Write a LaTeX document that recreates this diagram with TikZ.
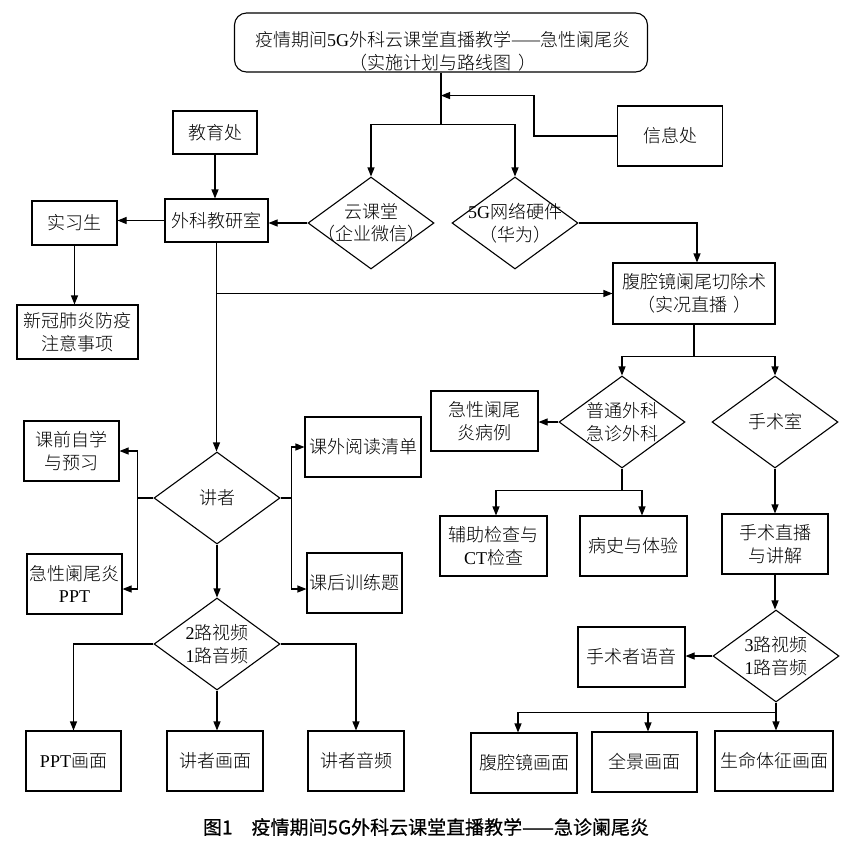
\documentclass[tikz,border=0pt]{standalone}
\usepackage{fontspec}
\setmainfont{Noto Sans CJK SC Light}
\newfontfamily\myenfont{Liberation Serif}
\newfontfamily\mycapfont[FakeBold=0.6]{Noto Sans CJK SC}
\usetikzlibrary{arrows.meta,shapes.geometric}
\newcommand\myEN[1]{{\myenfont #1}}
\newcommand\myLP{\makebox[10pt][r]{（}}
\newcommand\myRP{\makebox[10pt][l]{）}}
\begin{document}
\begin{tikzpicture}[x=1pt,y=-1pt,
  lw/.style={line width=1.1pt},
  every node/.style={font=\fontsize{18}{22.5}\selectfont, align=center, inner sep=0pt},
  box/.style={draw, lw, rectangle},
  sz/.style 2 args={minimum width=#1pt, minimum height=#2pt},
  dia/.style={draw, lw, diamond, minimum width=126pt, minimum height=92pt},
  arr/.style={lw, -{Triangle[length=9pt,width=7pt]}},
  ln/.style={lw}
]
\fill[white] (0,0) rectangle (866,844);
\useasboundingbox (0,0) rectangle (866,844);

% nodes
\node[box, rounded corners=12pt, sz={413}{59}] (title) at (441,42.5) {};
\node (titlet) at (443,51.5) {疫情期间\myEN{5G}外科云课堂直播教学——急性阑尾炎\\\myLP 实施计划与路线图\hspace{7pt}\myRP};
\node[box, sz={105}{60}] (xxc) at (670,136) {信息处};
\node[box, sz={84}{43}] (jyc) at (215,132.5) {教育处};
\node[box, sz={103}{43}] (kyjys) at (216.5,220.5) {外科教研室};
\node[box, sz={85}{44}] (sxs) at (74.5,223) {实习生};
\node[box, sz={121}{54}] (xg) at (77.5,332) {新冠肺炎防疫\\注意事项};
\node[dia] (yun) at (371,223) {};
\node (yunt) at (yun) {云课堂\\\myLP 企业微信\myRP};
\node[dia] (g5) at (515,223) {};
\node (g5t) at (g5) {\myEN{5G}网络硬件\\\myLP 华为\myRP};
\node[box, sz={162}{61}] (qjx) at (694,293.5) {腹腔镜阑尾切除术\\\myLP 实况直播\hspace{6pt}\myRP};
\node[dia] (js) at (217,498) {};
\node (jst) at (js) {讲者};
\node[box, sz={95}{60}] (kq) at (71.5,451) {课前自学\\与预习};
\node[box, sz={95}{60}] (ppt) at (74.5,584) {急性阑尾炎\\\myEN{PPT}};
\node[box, sz={116}{60}] (kwyd) at (363,447) {课外阅读清单};
\node[box, sz={95}{60}] (khxl) at (354.5,583) {课后训练题};
\node[dia] (lu2) at (217,644) {};
\node (lu2t) at (lu2) {\myEN{2}路视频\\\myEN{1}路音频};
\node[box, sz={95}{60}] (ppthm) at (73.5,761) {\myEN{PPT}画面};
\node[box, sz={96}{60}] (jshm) at (215,761) {讲者画面};
\node[box, sz={96}{60}] (jsyp) at (356,761) {讲者音频};
\node[dia] (pt) at (622,422) {};
\node (ptt) at (pt) {普通外科\\急诊外科};
\node[dia] (sss) at (775,422) {};
\node (ssst) at (sss) {手术室};
\node[box, sz={107}{60}] (bl) at (484.5,421) {急性阑尾\\炎病例};
\node[box, sz={107}{60}] (fz) at (493.5,546) {辅助检查与\\\myEN{CT}检查};
\node[box, sz={107}{60}] (bs) at (633.5,546) {病史与体验};
\node[box, sz={106}{60}] (sszb) at (775,544) {手术直播\\与讲解};
\node[dia] (lu3) at (776,656) {};
\node (lu3t) at (lu3) {\myEN{3}路视频\\\myEN{1}路音频};
\node[box, sz={107}{60}] (ssz) at (631.5,657) {手术者语音};
\node[box, sz={106}{60}] (fqhm) at (524,763) {腹腔镜画面};
\node[box, sz={105}{60}] (qjhm) at (644.5,762) {全景画面};
\node[box, sz={118}{60}] (smtz) at (774,761) {生命体征画面};
\node[font=\mycapfont\fontsize{19}{23}\selectfont] (cap) at (426,827) {图1\quad 疫情期间5G外科云课堂直播教学——急诊阑尾炎};

% connectors
\draw[ln] (title.south) -- ++(0,52) coordinate (jt);
\draw[arr] (jt) -| (yun.north);
\draw[arr] (jt) -| (g5.north);
\path (title.south) ++(0,23) coordinate (jx);
\draw[arr] (xxc.west) -- ++(-83,0) |- (jx);
\draw[arr] (yun.west) -- (yun.west -| kyjys.east);
\draw[arr] (kyjys.west) -- (kyjys.west -| sxs.east);
\draw[arr] (jyc.south) -- (jyc.south |- kyjys.north);
\draw[arr] (g5.east) -| ([xshift=3pt]qjx.north);
\draw[arr] (sxs.south) -- (sxs.south |- xg.north);
\draw[arr] (kyjys.south) -- (kyjys.south |- js.north);
\draw[arr] (kyjys.south |- qjx.west) -- (qjx.west);
\draw[ln] (js.west) -- ++(-16,0) coordinate (jl);
\draw[arr] (jl) |- (kq.east);
\draw[arr] (jl) |- ([yshift=-5pt]ppt.east);
\draw[ln] (js.east) -- ++(11,0) coordinate (jr);
\draw[arr] (jr) |- (kwyd.west);
\draw[arr] (jr) |- ([yshift=-6pt]khxl.west);
\draw[arr] (js.south) -- (lu2.north);
\draw[arr] (lu2.west) -| (ppthm.north);
\draw[arr] (lu2.south) -- (lu2.south |- jshm.north);
\draw[arr] (lu2.east) -| (jsyp.north);
\draw[ln] (qjx.south) -- ++(0,32) coordinate (jq);
\draw[arr] (jq) -| (pt.north);
\draw[arr] (jq) -| (sss.north);
\draw[arr] (pt.west) -- (pt.west -| bl.east);
\draw[ln] (pt.south) -- ++(0,22) coordinate (jp);
\draw[arr] (jp) -| ([xshift=2.5pt]fz.north);
\draw[arr] (jp) -| ([xshift=8.5pt]bs.north);
\draw[arr] (sss.south) -- (sszb.north);
\draw[arr] (sszb.south) -- (sszb.south |- lu3.north);
\draw[arr] (lu3.west) -- (lu3.west -| ssz.east);
\draw[ln] (lu3.south) -- ++(0,10) coordinate (jb);
\draw[arr] (jb) -| ([xshift=-6pt]fqhm.north);
\draw[arr] (jb) -| ([xshift=3.5pt]qjhm.north);
\draw[arr] (jb) -- (jb |- smtz.north);
\end{tikzpicture}
\end{document}
